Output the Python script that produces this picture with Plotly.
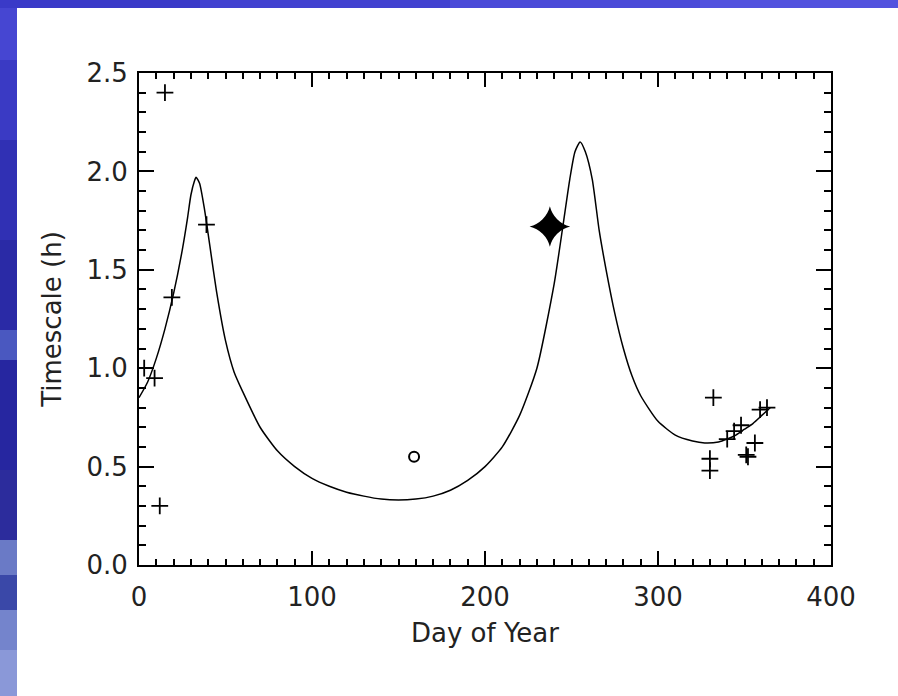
import plotly.graph_objects as go

# ---- data ----
curve_day = [0, 5, 10, 15, 20, 25, 28, 30, 32, 33, 35, 38, 40, 45, 50, 55, 60, 70, 80, 90,
             100, 110, 120, 130, 140, 150, 160, 170, 180, 190, 200, 210, 220, 230, 240, 245,
             249, 252, 255, 258, 262, 266, 270, 275, 280, 285, 290, 300, 310, 320, 327, 335,
             340, 345, 350, 355, 360, 365]
curve_val = [0.85, 0.93, 1.05, 1.20, 1.38, 1.60, 1.76, 1.88, 1.95, 1.97, 1.94, 1.80, 1.68, 1.38,
             1.14, 0.98, 0.88, 0.70, 0.58, 0.50, 0.44, 0.40, 0.37, 0.35, 0.335, 0.33, 0.335,
             0.35, 0.38, 0.43, 0.50, 0.60, 0.76, 1.00, 1.43, 1.72, 1.96, 2.10, 2.15, 2.10,
             1.96, 1.70, 1.50, 1.28, 1.10, 0.96, 0.86, 0.73, 0.66, 0.63, 0.62, 0.625, 0.64,
             0.66, 0.69, 0.72, 0.76, 0.80]

cross_day = [3, 9, 12, 15, 19, 39, 330, 330, 332, 340, 344, 348, 351, 352, 356, 359, 363]
cross_val = [1.00, 0.95, 0.30, 2.40, 1.36, 1.73, 0.54, 0.48, 0.85, 0.64, 0.68, 0.71, 0.56,
             0.55, 0.62, 0.79, 0.80]

diamond_day = [159]
diamond_val = [0.55]

star_day = [237.5]
star_val = [1.72]

x_ticks = [0, 100, 200, 300, 400]
y_ticks = [0.0, 0.5, 1.0, 1.5, 2.0, 2.5]
y_tick_text = ["0.0", "0.5", "1.0", "1.5", "2.0", "2.5"]

fig = go.Figure()
fig.add_trace(go.Scatter(x=curve_day, y=curve_val, mode="lines",
                         line=dict(color="black", width=1.5, shape="spline", smoothing=0.6),
                         showlegend=False, hoverinfo="skip"))
fig.add_trace(go.Scatter(x=cross_day, y=cross_val, mode="markers",
                         marker=dict(symbol="cross-thin", size=12, line=dict(color="black", width=1.8)),
                         showlegend=False))
fig.add_trace(go.Scatter(x=diamond_day, y=diamond_val, mode="markers",
                         marker=dict(symbol="circle-open", size=10, color="black", line=dict(color="black", width=2)),
                         showlegend=False))
fig.add_trace(go.Scatter(x=star_day, y=star_val, mode="markers",
                         marker=dict(symbol="star-diamond", size=29, color="black", line=dict(width=0)),
                         showlegend=False))

# background blue bands (paper coordinates; plot area spans px 139..831, 73..565)
def px_x(px):
    return (px - 139) / 692.0

def px_y(py):
    return (565 - py) / 492.0

left_cols = [("#4646d2", 0, 60), ("#3a3ac4", 60, 140), ("#3030b4", 140, 240), ("#2a2aa6", 240, 330),
             ("#4a58c0", 330, 360), ("#2626a0", 360, 470), ("#2c2c9c", 470, 540),
             ("#6a7ac6", 540, 575), ("#3a48a8", 575, 610), ("#7484cc", 610, 650), ("#8a98d8", 650, 700)]
shapes = []
for col, y0, y1 in left_cols:
    shapes.append(dict(type="rect", xref="paper", yref="paper", x0=px_x(-2), x1=px_x(17),
                       y0=px_y(y1), y1=px_y(y0), fillcolor=col, line=dict(width=0), layer="below"))
top_cols = [("#3a3ac8", -2, 200), ("#4242d0", 200, 450), ("#4a4ad8", 450, 700), ("#5252de", 700, 900)]
for col, x0, x1 in top_cols:
    shapes.append(dict(type="rect", xref="paper", yref="paper", x0=px_x(x0), x1=px_x(x1),
                       y0=px_y(8), y1=px_y(-2), fillcolor=col, line=dict(width=0), layer="below"))

font_fam = "DejaVu Sans"
txt_col = "#222222"
fig.update_layout(
    width=898, height=696,
    margin=dict(l=139, r=67, t=73, b=131),
    paper_bgcolor="white", plot_bgcolor="white",
    shapes=shapes,
    font=dict(family=font_fam, size=26, color=txt_col),
    xaxis=dict(range=[0, 400], tickvals=x_ticks, ticks="inside", ticklen=14, tickwidth=1.5,
               tickcolor="black", showline=True, linecolor="black", linewidth=2, mirror="ticks",
               showgrid=False, zeroline=False, ticklabelstandoff=8,
               minor=dict(ticks="inside", ticklen=6, tickwidth=1.5, dtick=10, tickcolor="black", showgrid=False),
               tickfont=dict(family=font_fam, size=26, color=txt_col),
               title=dict(text="Day of Year", font=dict(family=font_fam, size=26, color=txt_col), standoff=13)),
    yaxis=dict(range=[0, 2.5], tickvals=y_ticks, ticktext=y_tick_text, ticks="inside", ticklen=15,
               tickwidth=1.5, tickcolor="black", showline=True, linecolor="black", linewidth=2,
               mirror="ticks", showgrid=False, zeroline=False, ticklabelstandoff=4,
               minor=dict(ticks="inside", ticklen=7, tickwidth=1.5, dtick=0.1, tickcolor="black", showgrid=False),
               tickfont=dict(family=font_fam, size=26, color=txt_col),
               title=dict(text="Timescale (h)", font=dict(family=font_fam, size=26, color=txt_col), standoff=17)),
)

fig.write_html("out.html", config={"displayModeBar": False},
               post_script="document.body.style.margin='0px';document.body.style.padding='0px';")
